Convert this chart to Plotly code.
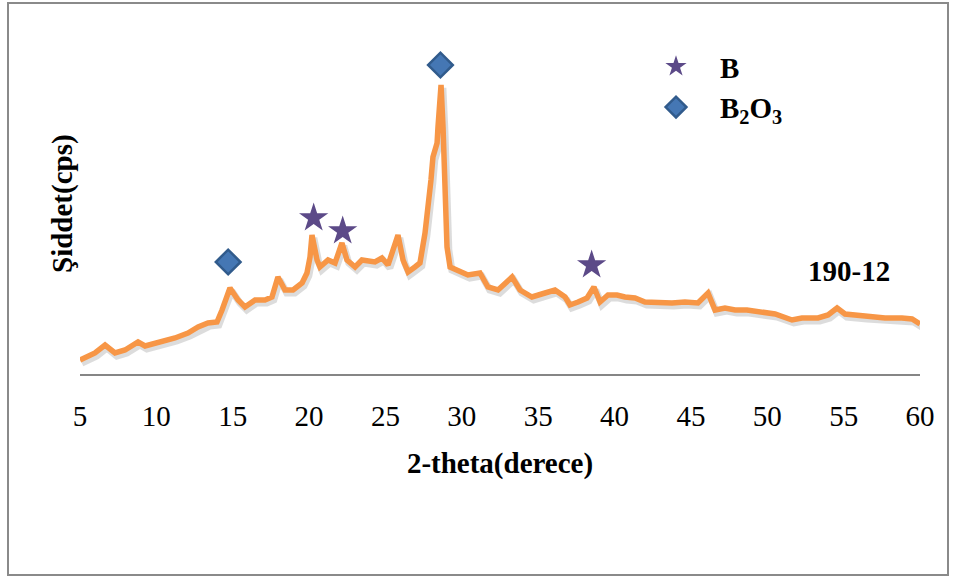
import plotly.graph_objects as go

# XRD pattern of sample 190-12 (2-theta in degrees, intensity in cps)
two_theta = [
    5.00, 5.98, 6.64, 7.29, 7.95, 8.80, 9.26, 10.11, 11.22, 12.07, 12.73, 13.38,
    13.97, 14.30, 14.82, 15.35, 15.80, 16.46, 17.11, 17.57, 17.96, 18.42, 18.95,
    19.54, 19.86, 20.06, 20.19, 20.52, 20.71, 21.24, 21.70, 22.15, 22.48, 23.01,
    23.46, 24.31, 24.77, 25.17, 25.49, 25.82, 26.15, 26.48, 26.93, 27.26, 27.59,
    27.79, 27.98, 28.11, 28.38, 28.44, 28.64, 28.77, 28.90, 29.03, 29.23, 29.75,
    30.40, 31.19, 31.71, 32.37, 33.29, 33.81, 34.59, 35.45, 36.10, 36.76, 37.08,
    37.61, 38.20, 38.65, 39.05, 39.57, 40.16, 40.68, 41.34, 41.99, 42.84, 43.76,
    44.61, 45.46, 46.12, 46.58, 47.23, 47.89, 48.67, 49.39, 50.51, 51.62, 52.27,
    53.32, 53.98, 54.57, 55.09, 56.40, 57.71, 58.82, 59.48, 60.00,
]
intensity = [
    140, 210, 290, 210, 240, 320, 280, 310, 360, 410, 470, 510,
    520, 640, 860, 740, 670, 740, 740, 770, 970, 840, 840,
    910, 1010, 1170, 1390, 1140, 1070, 1140, 1110, 1310, 1140, 1070,
    1140, 1120, 1160, 1090, 1240, 1390, 1140, 1020, 1070, 1110, 1410,
    1640, 1940, 2170, 2310, 2470, 2890, 2470, 1640, 1270, 1070, 1040,
    990, 1010, 870, 840, 970, 840, 770, 810, 840, 770, 690,
    720, 760, 870, 720, 790, 790, 770, 760, 720, 710, 710,
    720, 710, 810, 640, 660, 640, 640, 620, 600, 540, 560,
    560, 590, 660, 600, 580, 560, 560, 550, 500,
]

# Phase identification marks
b_theta = [20.3, 22.2, 38.5]
b_height = [1560, 1430, 1090]
b2o3_theta = [14.7, 28.6]
b2o3_height = [1120, 3090]

tick_vals = [5, 10, 15, 20, 25, 30, 35, 40, 45, 50, 55, 60]

SERIF = "Liberation Serif, Times New Roman, serif"
ORANGE = "#f79646"

fig = go.Figure()

# soft drop shadow under the pattern line
fig.add_trace(go.Scatter(
    x=[t + 0.12 for t in two_theta], y=[v - 30 for v in intensity],
    mode="lines", line=dict(color="rgba(60,60,60,0.18)", width=7),
    hoverinfo="skip", showlegend=False,
))
fig.add_trace(go.Scatter(
    x=two_theta, y=intensity, mode="lines",
    line=dict(color=ORANGE, width=5.5), name="190-12", showlegend=False,
))
fig.add_trace(go.Scatter(
    x=b_theta, y=b_height, mode="markers", name="B",
    marker=dict(symbol="star", size=22, color="#5c4a88",
                line=dict(width=0)),
    cliponaxis=False,
))
fig.add_trace(go.Scatter(
    x=b2o3_theta, y=b2o3_height, mode="markers", name="B<sub>2</sub>O<sub>3</sub>",
    marker=dict(symbol="diamond", size=19, color="#4577b4",
                line=dict(width=2.5, color="#315b8c")),
    cliponaxis=False,
))

L, R, T, B = 80, 36, 34, 205
W, H = 956, 579
pw, ph = W - L - R, H - T - B


def px_x(p):
    return (p - L) / pw


def px_y(p):
    return (H - B - p) / ph


fig.update_layout(
    width=W, height=H,
    margin=dict(l=L, r=R, t=T, b=B, pad=0),
    paper_bgcolor="white", plot_bgcolor="white",
    font=dict(family=SERIF, color="black"),
    xaxis=dict(
        range=[5, 60], tickmode="array", tickvals=tick_vals,
        ticks="", showgrid=False, zeroline=False,
        showline=True, linecolor="#868686", linewidth=2,
        tickfont=dict(family=SERIF, size=29, color="black"),
        ticklabelstandoff=15,
        title=dict(text="2-theta(derece)", standoff=22,
                   font=dict(family=SERIF, size=29, color="black", weight="bold")),
    ),
    yaxis=dict(
        range=[0, 3400], showticklabels=False, ticks="",
        showgrid=False, zeroline=False, showline=False,
    ),
    legend=dict(
        x=px_x(632), y=px_y(41), xanchor="left", yanchor="top",
        font=dict(family=SERIF, size=29, color="black", weight="bold"),
        bgcolor="rgba(0,0,0,0)", borderwidth=0,
        itemwidth=78, itemsizing="trace",
    ),
    annotations=[
        dict(text="Şiddet(cps)", xref="paper", yref="paper",
             x=px_x(62), y=0.5, xanchor="center", yanchor="middle",
             textangle=-90, showarrow=False,
             font=dict(family=SERIF, size=29, color="black", weight="bold")),
        dict(text="190-12", xref="paper", yref="paper",
             x=px_x(849), y=px_y(271), xanchor="center", yanchor="middle",
             showarrow=False,
             font=dict(family=SERIF, size=29, color="black", weight="bold")),
    ],
    shapes=[
        dict(type="rect", xref="paper", yref="paper",
             x0=px_x(8), x1=px_x(948), y0=px_y(575), y1=px_y(3),
             line=dict(color="#8a8a8a", width=2), fillcolor="rgba(0,0,0,0)",
             layer="below"),
    ],
)

fig.write_html("out.html")
